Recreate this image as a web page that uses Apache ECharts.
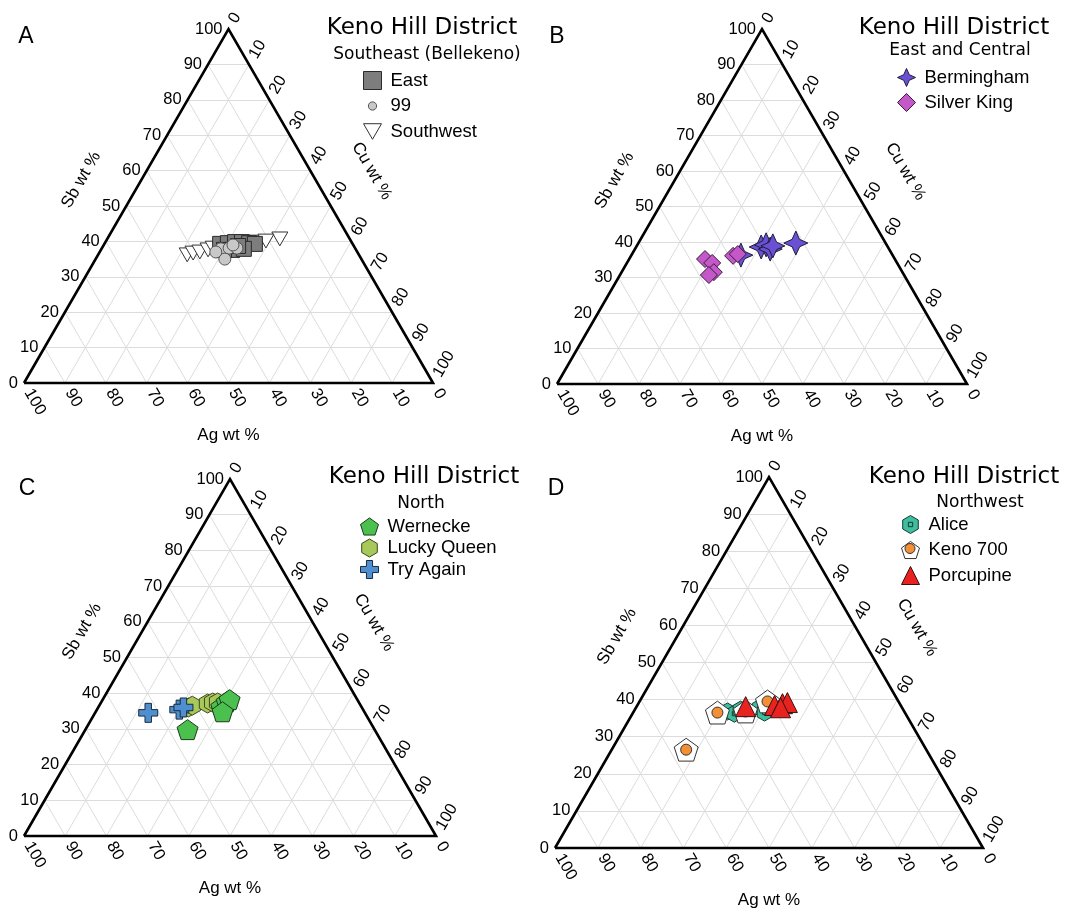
<!DOCTYPE html>
<html><head><meta charset="utf-8">
<script src="https://cdn.jsdelivr.net/npm/echarts@6/dist/echarts.min.js"></script>
<style>html,body{margin:0;padding:0;background:#fff}#c{width:1076px;height:913px}</style>
</head><body><div id="c"></div>
<script>
// ---------- tick labels / text ----------
const TICKS = [0, 10, 20, 30, 40, 50, 60, 70, 80, 90, 100];
const GRID_TICKS = [10, 20, 30, 40, 50, 60, 70, 80, 90];
const AXIS_TITLES = { sb: 'Sb wt %', cu: 'Cu wt %', ag: 'Ag wt %' };
const PANEL_LETTERS = ['A', 'B', 'C', 'D'];
const DISTRICT = 'Keno Hill District';
const REGIONS = ['Southeast (Bellekeno)', 'East and Central', 'North', 'Northwest'];

// ---------- data: [Sb, Cu, Ag] wt % ----------
const eastA = [[39.3,28.3,32.4],[39.5,30.1,30.4],[39.8,31.7,28.5],[39.8,33.4,26.8],[39.5,35.3,25.2],[39.3,36.8,23.9],[37.6,32.1,30.3],[37.9,34.8,27.3],[37.6,30.1,32.3],[38.7,33.0,28.3]];
const n99A = [[37.9,29.2,32.9],[38.1,31.1,30.8],[38.1,33.0,28.9],[35.0,31.6,33.4],[39.0,31.6,29.4],[37.0,28.4,34.6]];
const southwestA = [[40.7,42.2,17.1],[36.2,21.8,42.0],[36.7,23.0,40.3],[37.0,24.5,38.5],[37.6,26.2,36.2],[38.1,27.2,34.7],[38.7,29.1,32.2],[39.5,33.8,26.7],[39.5,35.5,25.0],[39.8,37.3,22.9],[40.1,39.1,20.8]];
const berminghamB = [[36.3,26.7,37.0],[38.6,30.5,30.9],[39.2,31.4,29.4],[38.0,33.0,29.0],[38.9,33.2,27.9],[39.7,38.4,21.9]];
const silverKingB = [[35.2,18.5,46.3],[34.1,20.8,45.1],[31.5,22.5,46.0],[30.7,21.7,47.6],[36.1,24.9,39.0],[36.6,25.8,37.6]];
const werneckeC = [[29.8,24.8,45.4],[36.2,29.8,34.0],[37.6,30.4,32.0],[38.2,30.8,31.0],[34.8,30.8,34.4]];
const luckyQueenC = [[36.0,21.9,42.1],[36.5,22.6,40.9],[37.1,26.0,36.9],[37.4,27.1,35.5],[37.4,28.3,34.3]];
const tryAgainC = [[34.5,12.9,52.6],[35.4,20.0,44.6],[36.0,20.7,43.3]];
const aliceD = [[36.8,21.9,41.3],[36.2,23.8,40.0],[37.3,24.7,38.0],[37.8,28.9,33.3],[36.5,30.7,32.8],[37.6,32.0,30.4]];
const keno700D = [[36.5,19.7,43.8],[26.5,17.4,56.1],[39.5,29.9,30.6],[36.8,26.1,37.1]];
const porcupineD = [[38.1,25.5,36.4],[38.4,32.1,29.5],[38.9,33.7,27.4],[39.2,34.7,26.1],[37.8,33.8,28.4]];

// ---------- layout ----------
const GRIDS = [
  { left: 24, top: 29, width: 409, height: 354 },
  { left: 557, top: 29, width: 410, height: 355 },
  { left: 24, top: 479, width: 412, height: 357 },
  { left: 555, top: 477, width: 428, height: 371 }
];
const FONT = '"Liberation Sans", Arial, sans-serif';
const TFONT = '"DejaVu Sans", sans-serif';
const SYM = {
  downTri: 'path://M-10,-8.66L10,-8.66L0,8.66Z',
  star4: 'path://M0,-10L3.1,-3.1L10,0L3.1,3.1L0,10L-3.1,3.1L-10,0L-3.1,-3.1Z',
  pentagon: 'path://M0,-10L9.51,-3.09L5.88,8.09L-5.88,8.09L-9.51,-3.09Z',
  hexagon: 'path://M0,-10L8.66,-5L8.66,5L0,10L-8.66,5L-8.66,-5Z',
  hexDot: 'path://M0,-10L8.66,-5L8.66,5L0,10L-8.66,5L-8.66,-5ZM-2.4,-2.4L2.4,-2.4L2.4,2.4L-2.4,2.4Z',
  plus: 'path://M-3.4,-10L3.4,-10L3.4,-3.4L10,-3.4L10,3.4L3.4,3.4L3.4,10L-3.4,10L-3.4,3.4L-10,3.4L-10,-3.4L-3.4,-3.4Z',
  smallCircle: 'path://M-10,-10M10,10M0,-4.6A4.6,4.6,0,1,1,0,4.6A4.6,4.6,0,1,1,0,-4.6Z'
};

const PANELS = [
  { legend: { left: 363, top: 71, gap: 6.5, names: ['East', { name: '99', icon: SYM.smallCircle }, 'Southwest'] },
    series: [
      { name: 'Southwest', data: southwestA, symbol: SYM.downTri, size: 16, fill: '#ffffff', border: '#333' },
      { name: 'East', data: eastA, symbol: 'rect', size: 15, fill: '#7d7d7d', border: '#2a2a2a' },
      { name: '99', data: n99A, symbol: 'circle', size: 12, fill: '#c8c8c8', border: '#555' }
    ] },
  { legend: { left: 897, top: 68, gap: 6, names: ['Bermingham', 'Silver King'] },
    series: [
      { name: 'Bermingham', data: berminghamB, symbol: SYM.star4, size: 24, fill: '#6b50d4', border: '#1e1e3a' },
      { name: 'Silver King', data: silverKingB, symbol: 'diamond', size: 17, fill: '#c558c9', border: '#3a1a3a' }
    ] },
  { legend: { left: 360, top: 517, gap: 2.5, names: ['Wernecke', 'Lucky Queen', 'Try Again'] },
    series: [
      { name: 'Lucky Queen', data: luckyQueenC, symbol: SYM.hexagon, size: 19, fill: '#a9c85c', border: '#3a4a1a' },
      { name: 'Wernecke', data: werneckeC, symbol: SYM.pentagon, size: 21, fill: '#4cc04f', border: '#1a3a1a' },
      { name: 'Try Again', data: tryAgainC, symbol: SYM.plus, size: 19, fill: '#4f8fd0', border: '#1a2a3a' }
    ] },
  { legend: { left: 901, top: 515, gap: 6.5, names: ['Alice', 'Keno 700', 'Porcupine'] },
    series: [
      { name: 'Alice', data: aliceD, symbol: SYM.hexDot, size: 17, fill: '#3dbf9f', border: '#1a3a30' },
      { name: 'Keno 700', data: keno700D, symbol: SYM.pentagon, size: 24, fill: '#ffffff', border: '#333' },
      { name: 'Keno 700 core', data: keno700D, symbol: 'circle', size: 11, fill: '#f39033', border: '#333' },
      { name: 'Porcupine', data: porcupineD, symbol: 'triangle', size: 20, fill: '#e8231f', border: '#3a1010' }
    ] }
];

// ternary [Sb, Cu, Ag] -> plot [x, y]
function tern(p) {
  const s = p[0] + p[1] + p[2];
  const sb = p[0] / s, cu = p[1] / s;
  return [cu + sb / 2, sb];
}

const xAxis = [], yAxis = [], series = [], legend = [], graphic = [];

PANELS.forEach((panel, i) => {
  xAxis.push({ type: 'value', gridIndex: i, min: 0, max: 1, show: false });
  yAxis.push({ type: 'value', gridIndex: i, min: 0, max: 1, show: false });

  // grid lines
  const segs = [];
  GRID_TICKS.forEach(t => {
    segs.push({ coords: [tern([t, 0, 100 - t]), tern([t, 100 - t, 0])] });
    segs.push({ coords: [tern([0, t, 100 - t]), tern([100 - t, t, 0])] });
    segs.push({ coords: [tern([0, 100 - t, t]), tern([100 - t, 0, t])] });
  });
  series.push({ type: 'lines', coordinateSystem: 'cartesian2d', xAxisIndex: i, yAxisIndex: i,
    data: segs, silent: true, z: 1, lineStyle: { color: '#dcdcdc', width: 1, opacity: 1 }, animation: false });

  // triangle outline
  series.push({ type: 'line', xAxisIndex: i, yAxisIndex: i, silent: true, z: 3, clip: false,
    data: [tern([0, 0, 100]), tern([0, 100, 0]), tern([100, 0, 0]), tern([0, 0, 100])],
    symbol: 'none', lineStyle: { color: '#000', width: 2.6, join: 'miter', miterLimit: 10 }, animation: false });

  // tick labels and axis titles
  const labels = [];
  TICKS.forEach(t => {
    labels.push({ pos: tern([t, 0, 100 - t]), text: String(t), dx: -6, dy: 0, rot: 0, align: 'right', size: 16.5 });
    labels.push({ pos: tern([100 - t, t, 0]), text: String(t), dx: 4, dy: -7, rot: Math.PI / 3, align: 'left', size: 16.5 });
    labels.push({ pos: tern([0, 100 - t, t]), text: String(t), dx: 4, dy: 7, rot: -Math.PI / 3, align: 'left', size: 16.5 });
  });
  labels.push({ pos: tern([50, 0, 50]), text: AXIS_TITLES.sb, dx: -45, dy: -26, rot: Math.PI / 3, align: 'center', size: 17 });
  labels.push({ pos: tern([50, 50, 0]), text: AXIS_TITLES.cu, dx: 41, dy: -35, rot: -Math.PI / 3, align: 'center', size: 17 });
  labels.push({ pos: tern([0, 50, 50]), text: AXIS_TITLES.ag, dx: 0, dy: 52, rot: 0, align: 'center', size: 17 });
  series.push({ type: 'custom', xAxisIndex: i, yAxisIndex: i, silent: true, clip: false, z: 5,
    data: labels.map(l => l.pos),
    renderItem: (params, api) => {
      const l = labels[params.dataIndex];
      const p = api.coord([api.value(0), api.value(1)]);
      return { type: 'text', x: p[0] + l.dx, y: p[1] + l.dy, rotation: l.rot,
        style: { text: l.text, font: l.size + 'px ' + FONT, fill: '#000', align: l.align, verticalAlign: 'middle',
          textAlign: l.align, textVerticalAlign: 'middle' } };
    }, animation: false });

  // data
  panel.series.forEach(s => {
    series.push({ type: 'scatter', name: s.name, xAxisIndex: i, yAxisIndex: i, clip: false, z: 6,
      data: s.data.map(tern), symbol: s.symbol, symbolSize: s.size, symbolKeepAspect: true,
      itemStyle: { color: s.fill, borderColor: s.border, borderWidth: 1, opacity: 1 }, animation: false });
  });

  legend.push({ data: panel.legend.names, orient: 'vertical', left: panel.legend.left, top: panel.legend.top,
    padding: 0, itemWidth: 18, itemHeight: 18, itemGap: panel.legend.gap, selectedMode: false,
    itemStyle: { borderColor: 'inherit', borderWidth: 1 },
    textStyle: { fontFamily: FONT, fontSize: 18.5, color: '#000', lineHeight: 18, padding: [0, 0, 0, 4] } });
});

const LETTER_POS = [[26, 37], [557, 37], [27, 489], [556, 489]];
const TITLE_POS = [[422, 28], [954, 28], [424, 477], [964, 477]];
const SUB_POS = [[427, 55], [960, 51], [421, 504], [980, 503]];
PANEL_LETTERS.forEach((L, i) => {
  graphic.push({ type: 'text', x: LETTER_POS[i][0], y: LETTER_POS[i][1],
    style: { text: L, font: '23px ' + FONT, fill: '#000', align: 'center', verticalAlign: 'middle', textAlign: 'center', textVerticalAlign: 'middle' } });
  graphic.push({ type: 'text', x: TITLE_POS[i][0], y: TITLE_POS[i][1],
    style: { text: DISTRICT, font: '23px ' + TFONT, fill: '#000', align: 'center', verticalAlign: 'middle', textAlign: 'center', textVerticalAlign: 'middle' } });
  graphic.push({ type: 'text', x: SUB_POS[i][0], y: SUB_POS[i][1],
    style: { text: REGIONS[i], font: '17px ' + TFONT, fill: '#000', align: 'center', verticalAlign: 'middle', textAlign: 'center', textVerticalAlign: 'middle' } });
});
// orange core on the Keno 700 legend icon
graphic.push({ type: 'circle', shape: { cx: 910, cy: 548.5, r: 5 }, z: 100,
  style: { fill: '#f39033', stroke: '#333', lineWidth: 1 } });

const chart = echarts.init(document.getElementById('c'), null, { renderer: 'canvas' });
chart.setOption({
  animation: false,
  backgroundColor: '#fff',
  grid: GRIDS.map(g => Object.assign({ containLabel: false }, g)),
  xAxis, yAxis, series, legend, graphic
});
</script></body></html>
